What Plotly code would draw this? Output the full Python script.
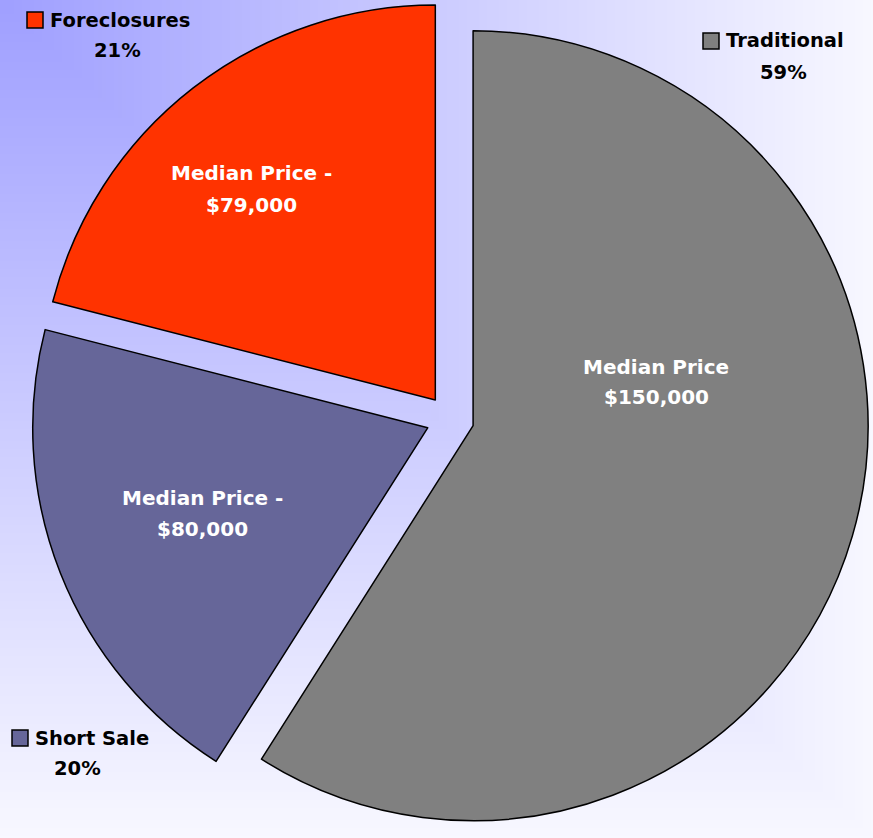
import zlib, struct, base64
import numpy as np
import plotly.graph_objects as go

# ---- data ----
categories = ["Traditional", "Short Sale", "Foreclosures"]
shares = [59, 20, 21]
median_line1 = ["Median Price", "Median Price -", "Median Price -"]
median_line2 = ["$150,000", "$80,000", "$79,000"]
colors = ["#808080", "#666699", "#FF3300"]

W, H = 873, 838
FONT = "DejaVu Sans"


def png_uri(arr):
    h, w, _ = arr.shape
    raw = b"".join(b"\x00" + arr[i].tobytes() for i in range(h))

    def chunk(t, d):
        c = struct.pack(">I", len(d)) + t + d
        return c + struct.pack(">I", zlib.crc32(t + d) & 0xFFFFFFFF)

    png = (b"\x89PNG\r\n\x1a\n"
           + chunk(b"IHDR", struct.pack(">IIBBBBB", w, h, 8, 2, 0, 0, 0))
           + chunk(b"IDAT", zlib.compress(raw, 9))
           + chunk(b"IEND", b""))
    return "data:image/png;base64," + base64.b64encode(png).decode()


# background gradient (from top-left corner)
gw, gh = 218, 210
xx, yy = np.meshgrid(np.linspace(0, 1, gw), np.linspace(0, 1, gh))
t = np.maximum(xx, yy)
c0 = np.array([160, 160, 255.0])
c1 = np.array([248, 248, 255.0])
grad = (c0[None, None, :] * (1 - t[..., None]) + c1[None, None, :] * t[..., None]).astype(np.uint8)
bg_uri = png_uri(grad)

total = sum(shares)
pcts = [round(v * 100 / total) for v in shares]

fig = go.Figure()
fig.add_trace(go.Pie(
    labels=categories,
    values=shares,
    textinfo="none",
    marker=dict(colors=colors, line=dict(color="black", width=1.5)),
    pull=[0.0608, 0.0608, 0.0608],
    sort=False,
    direction="clockwise",
    rotation=0,
    domain=dict(x=[0.031, 1], y=[0, 1]),
    hoverinfo="skip",
    showlegend=False,
))


def px(x):
    return x / W


def py(y):
    return 1 - y / H


# inside "median price" labels (two lines each)
inside_pos = {
    "Traditional": (656, 367, 397),
    "Short Sale": (202, 498, 529),
    "Foreclosures": (252, 173, 205),
}
# outside category labels with legend keys
label_pos = {
    "Traditional": dict(kx=703, ky=33, px=783, py=73),
    "Short Sale": dict(kx=12, ky=730, px=77, py=768),
    "Foreclosures": dict(kx=27, ky=12, px=117, py=50),
}
shapes = []
annotations = []
lab_font = dict(family=FONT, size=19.5, color="black", weight=700)
in_font = dict(family=FONT, size=20, color="white", weight=700)
for cat, col, p, l1, l2 in zip(categories, colors, pcts, median_line1, median_line2):
    ix, iy1, iy2 = inside_pos[cat]
    annotations.append(dict(text=l1, xref="paper", yref="paper", x=px(ix), y=py(iy1),
                            xanchor="center", yanchor="middle", showarrow=False, font=in_font))
    annotations.append(dict(text=l2, xref="paper", yref="paper", x=px(ix), y=py(iy2),
                            xanchor="center", yanchor="middle", showarrow=False, font=in_font))
    pos = label_pos[cat]
    shapes.append(dict(type="rect", xref="paper", yref="paper",
                       x0=px(pos["kx"]), x1=px(pos["kx"] + 16),
                       y0=py(pos["ky"] + 16), y1=py(pos["ky"]),
                       fillcolor=col, line=dict(color="black", width=1.5)))
    annotations.append(dict(text=cat, xref="paper", yref="paper",
                            x=px(pos["kx"] + 21), y=py(pos["ky"] + 8),
                            xanchor="left", yanchor="middle", showarrow=False, font=lab_font))
    annotations.append(dict(text=f"{p}%", xref="paper", yref="paper",
                            x=px(pos["px"]), y=py(pos["py"]),
                            xanchor="center", yanchor="middle", showarrow=False, font=lab_font))

fig.update_layout(
    width=W, height=H,
    margin=dict(l=0, r=0, t=0, b=0),
    paper_bgcolor="#D8D8FF",
    images=[dict(source=bg_uri, xref="paper", yref="paper", x=0, y=1,
                 sizex=1, sizey=1, sizing="stretch", xanchor="left", yanchor="top",
                 layer="below")],
    shapes=shapes,
    annotations=annotations,
)

fig.write_html("out.html", config={"displayModeBar": False},
               post_script="document.body.style.margin='0';document.body.style.overflow='hidden';")
